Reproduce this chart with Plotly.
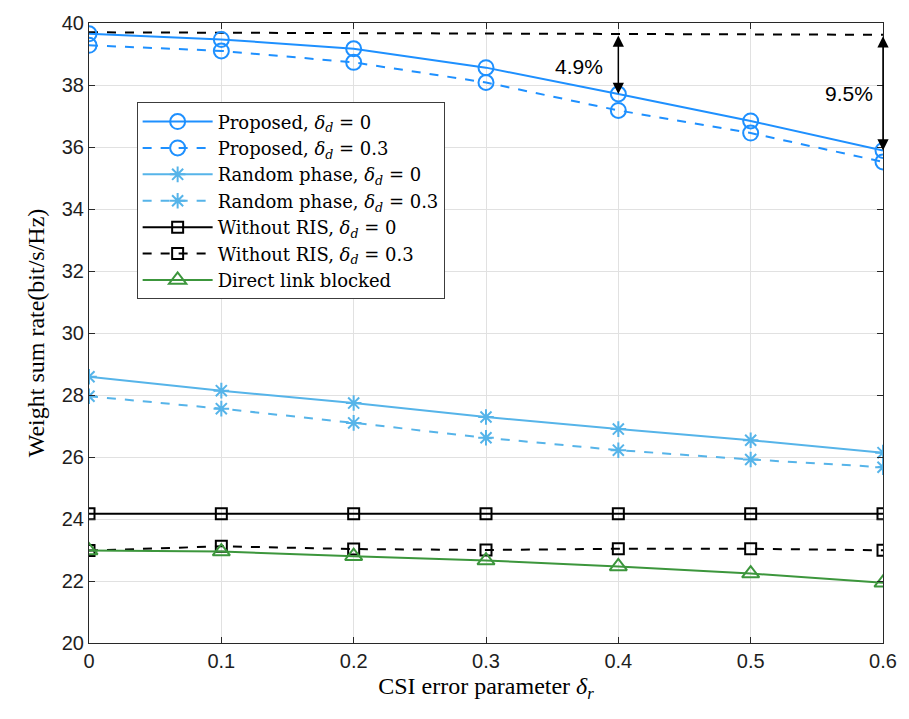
import plotly.graph_objects as go

x_vals = [0, 0.1, 0.2, 0.3, 0.4, 0.5, 0.6]
proposed_0 = [39.65, 39.47, 39.17, 38.56, 37.71, 36.84, 35.89]
proposed_03 = [39.28, 39.10, 38.73, 38.08, 37.18, 36.45, 35.52]
random_0 = [28.59, 28.14, 27.74, 27.29, 26.90, 26.54, 26.14]
random_03 = [27.96, 27.56, 27.10, 26.62, 26.22, 25.92, 25.67]
noris_0 = [24.17, 24.17, 24.17, 24.17, 24.17, 24.17, 24.17]
noris_03 = [22.98, 23.12, 23.03, 23.00, 23.04, 23.04, 22.99]
blocked = [22.98, 22.95, 22.80, 22.66, 22.47, 22.24, 21.94]
ref_x = [0, 0.6]
ref_line = [39.70, 39.62]
gap_labels = ["4.9%", "9.5%"]
gap_idx = [4, 6]
y_ticks = [20, 22, 24, 26, 28, 30, 32, 34, 36, 38, 40]
x_ticks = [0, 0.1, 0.2, 0.3, 0.4, 0.5, 0.6]

BLUE = "rgb(30,144,255)"
LBLUE = "rgb(86,180,233)"
GREEN = "rgb(60,150,60)"
BLACK = "rgb(0,0,0)"

dd = "<i>δ</i><sub><i>d</i></sub>"
fig = go.Figure()

fig.add_trace(go.Scatter(x=ref_x, y=ref_line, mode="lines", showlegend=False,
                         line=dict(color=BLACK, width=2, dash="dash")))

def add(y, name, color, dash, symbol, size):
    fig.add_trace(go.Scatter(
        x=x_vals, y=y, name=name, mode="lines+markers",
        line=dict(color=color, width=2, dash=dash),
        marker=dict(symbol=symbol, size=size, color=color,
                    line=dict(color=color, width=2))))

add(proposed_0, f"Proposed, {dd} = 0", BLUE, "solid", "circle-open", 15)
add(proposed_03, f"Proposed, {dd} = 0.3", BLUE, "dash", "circle-open", 15)
add(random_0, f"Random phase, {dd} = 0", LBLUE, "solid", "asterisk-open", 13)
add(random_03, f"Random phase, {dd} = 0.3", LBLUE, "dash", "asterisk-open", 13)
add(noris_0, f"Without RIS, {dd} = 0", BLACK, "solid", "square-open", 11)
add(noris_03, f"Without RIS, {dd} = 0.3", BLACK, "dash", "square-open", 11)
add(blocked, "Direct link blocked", GREEN, "solid", "triangle-up-open", 15)

# double-headed arrows from reference line to proposed curve
def ref_at(xv):
    return ref_line[0] + (ref_line[1] - ref_line[0]) * (xv - ref_x[0]) / (ref_x[1] - ref_x[0])

for i in gap_idx:
    xv = x_vals[i]
    fig.add_annotation(x=xv, y=proposed_0[i], ax=xv, ay=ref_at(xv),
                       xref="x", yref="y", axref="x", ayref="y",
                       showarrow=True, arrowhead=2, arrowside="end+start",
                       arrowsize=1.5, arrowwidth=1.5, arrowcolor=BLACK, text="")

sans = "Liberation Sans Narrow, Liberation Sans, Arial"
fig.add_annotation(x=0.37, y=38.6, text=gap_labels[0], showarrow=False,
                   font=dict(family=sans, size=21, color=BLACK))
fig.add_annotation(x=0.574, y=37.74, text=gap_labels[1], showarrow=False,
                   font=dict(family=sans, size=21, color=BLACK))

tickfont = dict(family=sans, size=20, color="rgb(30,30,30)")

fig.update_layout(
    width=909, height=719,
    margin=dict(l=89, r=19, t=14, b=76),
    plot_bgcolor="white", paper_bgcolor="white",
    legend=dict(x=0.06, y=0.872, xanchor="left", yanchor="top",
                bgcolor="white", bordercolor="rgb(60,60,60)", borderwidth=1,
                font=dict(family="DejaVu Serif, serif", size=18, color=BLACK),
                tracegroupgap=0, itemwidth=70),
    xaxis=dict(range=[0, 0.6], tickvals=x_ticks, ticktext=[f"{v:g}" for v in x_ticks],
               showgrid=True, gridcolor="rgb(225,225,225)", gridwidth=1,
               ticks="inside", ticklen=6, tickcolor="rgb(40,40,40)",
               showline=True, linecolor="rgb(40,40,40)", linewidth=1.2, mirror="ticks",
               zeroline=False, tickfont=tickfont,
               title=dict(text="CSI error parameter <i>δ</i><sub><i>r</i></sub>",
                          font=dict(family="Liberation Serif, serif", size=24, color=BLACK),
                          standoff=6)),
    yaxis=dict(range=[20, 40], tickvals=y_ticks,
               showgrid=True, gridcolor="rgb(225,225,225)", gridwidth=1,
               ticks="inside", ticklen=6, tickcolor="rgb(40,40,40)",
               showline=True, linecolor="rgb(40,40,40)", linewidth=1.2, mirror="ticks",
               zeroline=False, tickfont=tickfont,
               title=dict(text="Weight sum rate(bit/s/Hz)",
                          font=dict(family="Liberation Serif, serif", size=24, color=BLACK),
                          standoff=10)),
)

fig.write_html("out.html")
